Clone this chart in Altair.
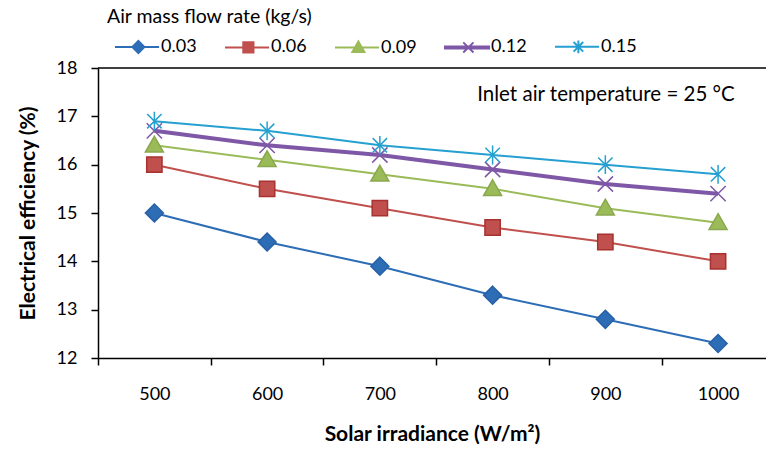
import altair as alt
import pandas as pd
import re

# ---- data -------------------------------------------------------------
irradiance = [500, 600, 700, 800, 900, 1000]
flow_rates = ["0.03", "0.06", "0.09", "0.12", "0.15"]
eff_003 = [15.0, 14.4, 13.9, 13.3, 12.8, 12.3]
eff_006 = [16.0, 15.5, 15.1, 14.7, 14.4, 14.0]
eff_009 = [16.4, 16.1, 15.8, 15.5, 15.1, 14.8]
eff_012 = [16.7, 16.4, 16.2, 15.9, 15.6, 15.4]
eff_015 = [16.9, 16.7, 16.4, 16.2, 16.0, 15.8]
x_ticks = [450, 500, 550, 600, 650, 700, 750, 800, 850, 900, 950, 1000]
y_ticks = [12, 13, 14, 15, 16, 17, 18]
annotation = "Inlet air temperature = 25 °C"

# ---- styles -----------------------------------------------------------
colors = ["#2D6DB5", "#C0504D", "#9BBB59", "#7E58A6", "#25A0D0"]
edges = ["#2760A6", "#A8322F", "#8AA84E", "#7E58A6", "#25A0D0"]
marker_paths = [
    "M0,-1L1,0L0,1L-1,0Z",
    "M-0.85,-0.85H0.85V0.85H-0.85Z",
    "M0,-1L1,0.75H-1Z",
    "M-0.85,-0.85L0.85,0.85M-0.85,0.85L0.85,-0.85",
    "M-0.8,-0.8L0.8,0.8M-0.8,0.8L0.8,-0.8M0,-1.05V1.05",
]


def shifted(path_markers, s, left, right, thick=False):
    # legend symbol: horizontal line through a marker, shifted right by s units
    def move(m):
        cmd, a, b = m.group(1), float(m.group(2)), float(m.group(3))
        return f"{cmd}{a + s:.3f},{b}"

    marker = re.sub(r"([ML])(-?[\d.]+),(-?[\d.]+)", move, path_markers)
    marker = re.sub(r"H(-?[\d.]+)", lambda m: f"H{float(m.group(1)) + s:.3f}", marker)
    l, r = s - left, s + right
    if thick:
        line = f"M{l:.3f},-0.17H{r:.3f}V0.17H{l:.3f}Z"
    else:
        line = f"M{l:.3f},0H{r:.3f}"
    return line + marker


SHIFT = 3.73
legend_paths = [
    shifted(p, SHIFT, 3.9, 3.45, thick=(i == 3)) for i, p in enumerate(marker_paths)
]

series = [eff_003, eff_006, eff_009, eff_012, eff_015]
rows = []
for name, vals in zip(flow_rates, series):
    for x, y in zip(irradiance, vals):
        rows.append({"irradiance": x, "efficiency": y, "series": name})
df = pd.DataFrame(rows)

W, H = 668, 290
FONT = "Lato"

x_enc = alt.X(
    "irradiance:Q",
    scale=alt.Scale(domain=[450, 1042.5], nice=False, zero=False),
    axis=alt.Axis(
        title="Solar irradiance (W/m²)",
        values=x_ticks,
        format="d",
        labelExpr="datum.value % 100 == 0 ? datum.label : ''",
        tickOpacity={"condition": {"test": "datum.value % 100 == 0", "value": 0}, "value": 1},
        tickSize=7,
        labelPadding=20,
        labelFlush=False,
        labelOverlap=False,
        titlePadding=20,
        grid=False,
    ),
)
y_enc = alt.Y(
    "efficiency:Q",
    scale=alt.Scale(domain=[12, 18], nice=False, zero=False),
    axis=alt.Axis(
        title="Electrical efficiency  (%)",
        values=y_ticks,
        format="d",
        tickSize=7,
        labelPadding=14,
        labelFlush=False,
        titlePadding=18,
        grid=False,
    ),
)

base = alt.Chart(df)

lines = base.mark_line().encode(
    x=x_enc,
    y=y_enc,
    color=alt.Color("series:N", scale=alt.Scale(domain=flow_rates, range=colors), legend=None),
    strokeWidth=alt.when(alt.datum.series == "0.12").then(alt.value(4)).otherwise(alt.value(2)),
    order=alt.Order("irradiance:Q"),
)

points = base.mark_point(filled=True, size=324, opacity=1, strokeWidth=1.5).encode(
    x=x_enc,
    y=y_enc,
    fill=alt.Fill("series:N", scale=alt.Scale(domain=flow_rates, range=colors), legend=None),
    stroke=alt.Stroke("series:N", scale=alt.Scale(domain=flow_rates, range=edges), legend=None),
    shape=alt.Shape("series:N", scale=alt.Scale(domain=flow_rates, range=marker_paths), legend=None),
)

leg = alt.Legend(
    title="Air mass flow rate (kg/s)",
    orient="none",
    legendX=9,
    legendY=-60,
    direction="horizontal",
    columns=5,
    padding=0,
    titleFont=FONT,
    titleFontSize=19.5,
    titleFontWeight="normal",
    titleColor="black",
    titleAnchor="start",
    titleLimit=500,
    titlePadding=10,
    labelFont=FONT,
    labelFontSize=18,
    labelColor="black",
    labelOffset=36,
    symbolSize=144,
    symbolStrokeWidth=2,
    symbolOpacity=1,
    columnPadding=20,
)

legend_layer = base.mark_point(filled=True, opacity=0).encode(
    x=x_enc,
    y=y_enc,
    fill=alt.Fill("series:N", scale=alt.Scale(domain=flow_rates, range=colors), legend=leg),
    stroke=alt.Stroke("series:N", scale=alt.Scale(domain=flow_rates, range=colors), legend=leg),
    shape=alt.Shape("series:N", scale=alt.Scale(domain=flow_rates, range=legend_paths), legend=leg),
)

note = alt.Chart(pd.DataFrame({"label": [annotation]})).mark_text(
    font=FONT, fontSize=20.5, color="black", align="center", baseline="middle"
).encode(x=alt.value(508), y=alt.value(27), text="label:N")

frame = alt.Chart(pd.DataFrame({"k": [0]})).mark_rule(color="black", strokeWidth=1.5).encode(
    x=alt.value(0), x2=alt.value(W), y=alt.value(0)
)

chart = (
    alt.layer(lines, points, legend_layer, note, frame)
    .resolve_scale(color="independent", fill="independent", stroke="independent", shape="independent")
    .properties(
        width=W,
        height=H,
        padding={"left": 98, "top": 68, "right": 0, "bottom": 98},
        autosize=alt.AutoSizeParams(type="none"),
        background="white",
    )
    .configure(font=FONT)
    .configure_view(strokeWidth=0)
    .configure_axis(
        domainColor="black",
        domainWidth=1.5,
        tickColor="black",
        tickWidth=1.5,
        labelFont=FONT,
        labelFontSize=18,
        labelColor="black",
        titleFont=FONT,
        titleFontSize=21,
        titleFontWeight="bold",
        titleColor="black",
    )
)

chart.save("out.html", embed_options={"renderer": "svg", "actions": False})
